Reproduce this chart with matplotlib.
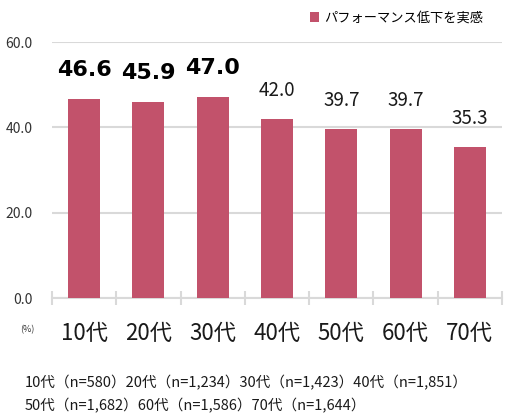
import matplotlib.pyplot as plt
import numpy as np

plt.rcParams['font.family'] = ['Noto Sans CJK JP', 'DejaVu Sans']

ages = ['10代', '20代', '30代', '40代', '50代', '60代', '70代']
values = [46.6, 45.9, 47.0, 42.0, 39.7, 39.7, 35.3]
bold_top = [True, True, True, False, False, False, False]
series_name = 'パフォーマンス低下を実感'
notes = ['10代（n=580）20代（n=1,234）30代（n=1,423）40代（n=1,851）',
         '50代（n=1,682）60代（n=1,586）70代（n=1,644）']

bar_color = '#C2526B'
grid_color = '#D9D9D9'

fig = plt.figure(figsize=(5.05, 4.13), dpi=100)
ax = fig.add_axes([52 / 505, 1 - 298 / 413, 450 / 505, 256 / 413])

x = np.arange(len(ages))
bars = ax.bar(x, values, width=0.5, color=bar_color, label=series_name, zorder=3)

# data labels
for xi, v, b in zip(x, values, bold_top):
    if b:
        ax.annotate(f'{v:.1f}', (xi, v), xytext=(0, 14), textcoords='offset points',
                    ha='center', va='bottom', fontsize=16, fontweight='bold',
                    family=['DejaVu Sans'], color='black')
    else:
        ax.annotate(f'{v:.1f}', (xi, v), xytext=(0, 13), textcoords='offset points',
                    ha='center', va='bottom', fontsize=13.5, color='#1a1a1a')

ax.set_xlim(-0.5, len(ages) - 0.5)
ax.set_ylim(0, 60)
ax.set_yticks([0, 20, 40, 60])
ax.set_yticklabels(['0.0', '20.0', '40.0', '60.0'], fontsize=10, color='#333333')
ax.tick_params(axis='y', length=0, pad=14)
ax.yaxis.grid(True, color=grid_color, linewidth=1.5, zorder=0)

ax.set_xticks(x)
ax.set_xticklabels(ages, fontsize=16, color='#1a1a1a')
ax.tick_params(axis='x', which='major', length=0, pad=17)
ax.set_xticks(np.arange(-0.5, len(ages)), minor=True)
ax.tick_params(axis='x', which='minor', direction='inout', length=10,
               width=1.5, color=grid_color)

for s in ['top', 'right', 'left']:
    ax.spines[s].set_visible(False)
ax.spines['bottom'].set_color(grid_color)
ax.spines['bottom'].set_linewidth(1.5)

leg = fig.legend(handles=[bars], labels=[series_name], loc='center left',
                 bbox_to_anchor=(298 / 505, 1 - 18 / 413), frameon=False,
                 fontsize=9.5, handlelength=0.7, handleheight=0.7, handletextpad=0.4)

fig.text(20 / 505, 1 - 330 / 413, '(%)', fontsize=6.5, va='center', color='#333333')
fig.text(25 / 505, 1 - 383 / 413, notes[0], fontsize=10.5, va='center', color='#1a1a1a')
fig.text(25 / 505, 1 - 406 / 413, notes[1], fontsize=10.5, va='center', color='#1a1a1a')

fig.savefig('out.png', dpi=100)
